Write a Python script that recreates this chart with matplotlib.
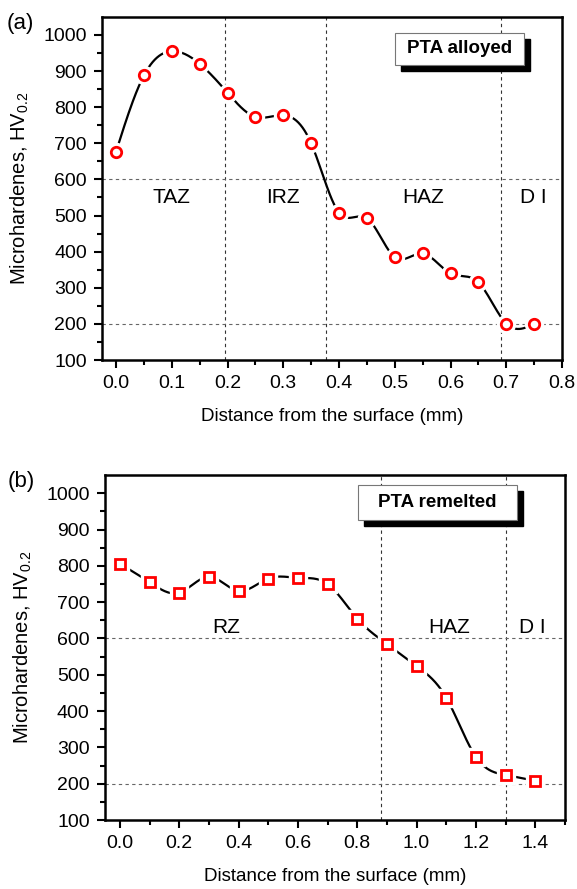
import matplotlib
matplotlib.use("Agg")
import matplotlib.pyplot as plt
import matplotlib.transforms as mtransforms
from matplotlib.patches import Rectangle
import numpy as np

plt.rcParams['font.family'] = ['Liberation Sans', 'DejaVu Sans']
plt.rcParams['mathtext.fontset'] = 'custom'
plt.rcParams['mathtext.rm'] = 'Liberation Sans'
plt.rcParams['mathtext.default'] = 'regular'

# (a) PTA alloyed
dist_a = [0.0, 0.05, 0.1, 0.15, 0.2, 0.25, 0.3, 0.35, 0.4, 0.45, 0.5, 0.55, 0.6, 0.65, 0.7, 0.75]
hv_a = [677, 888, 955, 920, 840, 773, 778, 700, 508, 493, 385, 395, 340, 315, 201, 200]
zones_a = ["TAZ", "IRZ", "HAZ", "D I"]
zones_a_x = [0.10, 0.30, 0.55, 0.748]
bounds_a = [0.195, 0.376, 0.691]

# (b) PTA remelted
dist_b = [0.0, 0.1, 0.2, 0.3, 0.4, 0.5, 0.6, 0.7, 0.8, 0.9, 1.0, 1.1, 1.2, 1.3, 1.4]
hv_b = [806, 755, 726, 770, 731, 765, 767, 750, 655, 585, 524, 437, 274, 224, 208]
zones_b = ["RZ", "HAZ", "D I"]
zones_b_x = [0.36, 1.11, 1.39]
bounds_b = [0.88, 1.30]

hlines = [600, 200]


def natural_spline(x, y, n=400):
    x = np.asarray(x, float)
    y = np.asarray(y, float)
    k = len(x)
    h = np.diff(x)
    A = np.zeros((k, k))
    r = np.zeros(k)
    A[0, 0] = A[-1, -1] = 1
    for i in range(1, k - 1):
        A[i, i - 1] = h[i - 1]
        A[i, i] = 2 * (h[i - 1] + h[i])
        A[i, i + 1] = h[i]
        r[i] = 3 * ((y[i + 1] - y[i]) / h[i] - (y[i] - y[i - 1]) / h[i - 1])
    c = np.linalg.solve(A, r)
    b = (y[1:] - y[:-1]) / h - h * (2 * c[:-1] + c[1:]) / 3
    d = (c[1:] - c[:-1]) / (3 * h)
    xs = np.linspace(x[0], x[-1], n)
    idx = np.clip(np.searchsorted(x, xs) - 1, 0, k - 2)
    t = xs - x[idx]
    ys = y[idx] + b[idx] * t + c[idx] * t ** 2 + d[idx] * t ** 3
    return xs, ys


def legend_box(ax, text, x0, y0, w, h):
    shadow = mtransforms.offset_copy(ax.transAxes, fig=ax.figure, x=6, y=-6, units='dots')
    ax.add_patch(Rectangle((x0, y0), w, h, transform=shadow, facecolor='black',
                           edgecolor='black', clip_on=False, zorder=5))
    ax.add_patch(Rectangle((x0, y0), w, h, transform=ax.transAxes, facecolor='white',
                           edgecolor='#777777', lw=0.8, clip_on=False, zorder=6))
    ax.text(x0 + w / 2, y0 + h / 2, text, transform=ax.transAxes, ha='center', va='center',
            fontsize=13.5, fontweight='bold', zorder=7)


def panel(ax, xs, ys, marker, xlim, xmajor, xminor, bounds, zones, zones_x, zone_y, box):
    sx, sy = natural_spline(xs, ys)
    for v in bounds:
        ax.axvline(v, color='#333333', lw=0.8, ls=(0, (3, 3)), zorder=1)
    for v in hlines:
        ax.axhline(v, color='#666666', lw=0.8, ls=(0, (3, 3)), zorder=1)
    ax.plot(sx, sy, color='black', lw=1.6, zorder=2)
    ax.plot(xs, ys, ls='none', marker=marker, ms=13, mfc='white', mec='white', zorder=3)
    ax.plot(xs, ys, ls='none', marker=marker, ms=7.5, mfc='white', mec='red', mew=2, zorder=4)
    for z, zx in zip(zones, zones_x):
        ax.text(zx, zone_y, z, ha='center', va='center', fontsize=15)
    ax.set_xlim(*xlim)
    ax.set_ylim(100, 1050)
    ax.set_xticks(np.arange(0, xlim[1] + 1e-9, xmajor))
    ax.set_xticks(np.arange(0, xlim[1] + 1e-9, xminor), minor=True)
    ax.set_yticks(np.arange(100, 1001, 100))
    ax.set_yticks(np.arange(150, 1001, 100), minor=True)
    ax.tick_params(which='both', direction='out', width=1.5, labelsize=14, top=False, right=False)
    ax.tick_params(which='major', length=6, pad=5)
    ax.tick_params(which='minor', length=3.5)
    for s in ax.spines.values():
        s.set_linewidth(1.8)
    ax.set_xlabel("Distance from the surface (mm)", fontsize=13.5, labelpad=11)
    ax.set_ylabel("Microhardenes, HV$_{0.2}$", fontsize=14.5)
    ax.yaxis.set_label_coords(-0.154, 0.5)
    legend_box(ax, *box)


fig = plt.figure(figsize=(5.77, 8.89), dpi=100)
ax1 = fig.add_axes([0.177, 0.595, 0.797, 0.386])
ax2 = fig.add_axes([0.182, 0.0776, 0.797, 0.388])

panel(ax1, dist_a, hv_a, 'o', (-0.025, 0.8), 0.1, 0.05, bounds_a, zones_a, zones_a_x, 551,
      ("PTA alloyed", 0.637, 0.860, 0.28, 0.093))
panel(ax2, dist_b, hv_b, 's', (-0.05, 1.5), 0.2, 0.1, bounds_b, zones_b, zones_b_x, 630,
      ("PTA remelted", 0.55, 0.870, 0.346, 0.101))

fig.text(20 / 577, 1 - 23 / 889, "(a)", ha='center', va='center', fontsize=16)
fig.text(21 / 577, 1 - 482 / 889, "(b)", ha='center', va='center', fontsize=16)

fig.savefig("out.png", dpi=100)
